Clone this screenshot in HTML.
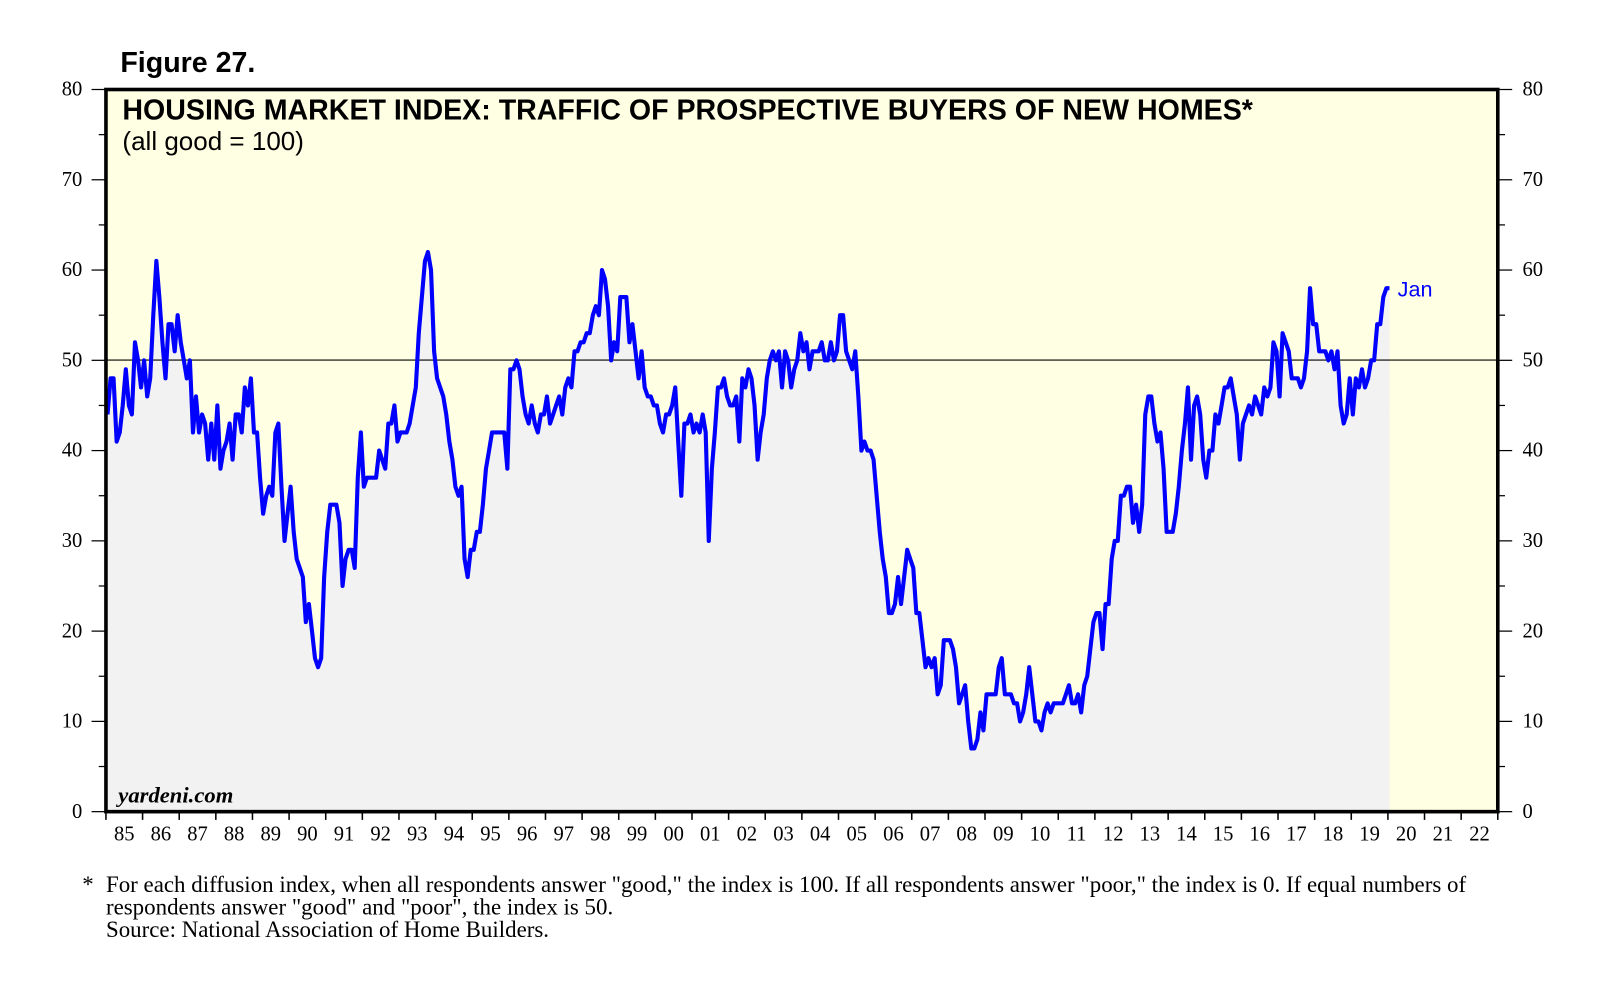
<!DOCTYPE html>
<html><head><meta charset="utf-8">
<style>
body{margin:0;background:#fff;}
svg{display:block;}
</style></head>
<body>
<svg id="chart" width="1613" height="985" viewBox="0 0 1568 957.5" xmlns="http://www.w3.org/2000/svg">
<text x="117" y="70" font-family="Liberation Sans, sans-serif" font-weight="bold" font-size="27.8">Figure 27.</text>
<rect x="103" y="87" width="1353" height="702" fill="#ffffe3"/>
<g id="fillg"></g>
<line x1="103" x2="1456" y1="350" y2="350" stroke="#000" stroke-width="1.2"/>
<g id="lineg"></g>
<rect x="103" y="87" width="1353" height="702" fill="none" stroke="#000" stroke-width="3.5"/>
<text x="119" y="116" font-family="Liberation Sans, sans-serif" font-weight="bold" font-size="27.8">HOUSING MARKET INDEX: TRAFFIC OF PROSPECTIVE BUYERS OF NEW HOMES*</text>
<text x="119" y="146" font-family="Liberation Sans, sans-serif" font-size="25.3">(all good = 100)</text>
<text x="115" y="780" font-family="Liberation Serif, serif" font-weight="bold" font-style="italic" font-size="22">yardeni.com</text>
<g id="axes"></g>
<text font-family="Liberation Serif, serif" font-size="22.3">
<tspan x="80" y="867">*</tspan><tspan x="103" y="867">For each diffusion index, when all respondents answer "good," the index is 100. If all respondents answer "poor," the index is 0. If equal numbers of</tspan>
<tspan x="103" y="889">respondents answer "good" and "poor", the index is 50.</tspan>
<tspan x="103" y="911">Source: National Association of Home Builders.</tspan>
</text>
</svg>
<script>
const startYear = 1985;
const yTicks = [0,10,20,30,40,50,60,70,80];
const yearLabels = ["85","86","87","88","89","90","91","92","93","94","95","96","97","98","99","00","01","02","03","04","05","06","07","08","09","10","11","12","13","14","15","16","17","18","19","20","21","22"];
const values = [
44,48,48,41,42,45,49,45,44,52,50,47,
50,46,48,55,61,57,52,48,54,54,51,55,
52,50,48,50,42,46,42,44,43,39,43,39,
45,38,40,41,43,39,44,44,42,47,45,48,
42,42,37,33,35,36,35,42,43,36,30,33,
36,31,28,27,26,21,23,20,17,16,17,26,
31,34,34,34,32,25,28,29,29,27,37,42,
36,37,37,37,37,40,39,38,43,43,45,41,
42,42,42,43,45,47,53,57,61,62,60,51,
48,47,46,44,41,39,36,35,36,28,26,29,
29,31,31,34,38,40,42,42,42,42,42,38,
49,49,50,49,46,44,43,45,43,42,44,44,
46,43,44,45,46,44,47,48,47,51,51,52,
52,53,53,55,56,55,60,59,56,50,52,51,
57,57,57,52,54,51,48,51,47,46,46,45,
45,43,42,44,44,45,47,41,35,43,43,44,
42,43,42,44,42,30,38,42,47,47,48,46,
45,45,46,41,48,47,49,48,45,39,42,44,
48,50,51,50,51,47,51,50,47,49,50,53,
51,52,49,51,51,51,52,50,50,52,50,51,
55,55,51,50,49,51,46,40,41,40,40,39,
35,31,28,26,22,22,23,26,23,26,29,28,
27,22,22,19,16,17,16,17,13,14,19,19,
19,18,16,12,13,14,10,7,7,8,11,9,
13,13,13,13,16,17,13,13,13,12,12,10,
11,13,16,13,10,10,9,11,12,11,12,12,
12,12,13,14,12,12,13,11,14,15,18,21,
22,22,18,23,23,28,30,30,35,35,36,36,
32,34,31,34,44,46,46,43,41,42,38,31,
31,31,33,36,40,43,47,39,45,46,44,39,
37,40,40,44,43,45,47,47,48,46,44,39,
43,44,45,44,46,45,44,47,46,47,52,51,
46,53,52,51,48,48,48,47,48,51,58,54,
54,51,51,51,50,51,49,51,45,43,44,48,
44,48,47,49,47,48,50,50,54,54,57,58,
58];
const lastLabel = "Jan";

const NS="http://www.w3.org/2000/svg";
const X0=103, X1=1456, Y0=789, Y1=87;
const nYears = yearLabels.length;
const xYear = t => X0 + (t)*(X1-X0)/nYears;
const xMonth = i => xYear((i+0.5)/12);
const yVal = v => Y0 - v*(Y0-Y1)/80;
function mk(tag, attrs){const e=document.createElementNS(NS,tag);for(const k in attrs)e.setAttribute(k,attrs[k]);return e;}

const pts = values.map((v,i)=>[xMonth(i),yVal(v)]);
const d = pts.map((p,i)=>(i?'L':'M')+p[0].toFixed(1)+' '+p[1].toFixed(1)).join(' ');
const fillD = 'M'+X0+' '+Y0+' L'+X0+' '+pts[0][1].toFixed(1)+' L'+d.slice(1)+' L'+pts[pts.length-1][0].toFixed(1)+' '+Y0+' Z';
const area = mk('path',{d:fillD,fill:'#f2f2f2'});


document.getElementById('fillg').appendChild(area);
const line = mk('path',{d:d,fill:'none',stroke:'#0000ff','stroke-width':4,'stroke-linejoin':'round'});


document.getElementById('lineg').appendChild(line);
const last = pts[pts.length-1];
const lab = mk('text',{x:last[0]+8,y:last[1]+8,fill:'#0000ff','font-family':'Liberation Sans, sans-serif','font-size':21});
lab.textContent = lastLabel;


document.getElementById('lineg').appendChild(lab);

const ax = document.getElementById('axes');
for(let v=0; v<=80; v+=5){
  const y=yVal(v), major = v%10===0;
  const len = major?14:7;
  const tl = mk('line',{x1:X0-len,x2:X0,y1:y,y2:y,stroke:'#000','stroke-width':1.2});
  
  
  ax.appendChild(tl);
  const tr = mk('line',{x1:X1,x2:X1+len,y1:y,y2:y,stroke:'#000','stroke-width':1.2});
  
  
  ax.appendChild(tr);
}
yTicks.forEach(v=>{
  const y=yVal(v);
  const l = mk('text',{x:80,y:y+6,'text-anchor':'end','font-family':'Liberation Serif, serif','font-size':20});
  l.textContent=v;
  
  
  ax.appendChild(l);
  const r = mk('text',{x:1480,y:y+6,'font-family':'Liberation Serif, serif','font-size':20});
  r.textContent=v;
  
  
  ax.appendChild(r);
});
for(let i=0;i<=nYears;i++){
  const x=xYear(i);
  const t = mk('line',{x1:x,x2:x,y1:Y0,y2:Y0+8,stroke:'#000','stroke-width':1.5});
  
  
  ax.appendChild(t);
}
yearLabels.forEach((s,i)=>{
  const t = mk('text',{x:xYear(i+0.5),y:817,'text-anchor':'middle','font-family':'Liberation Serif, serif','font-size':20});
  t.textContent=s;
  
  
  ax.appendChild(t);
});
</script>
</body></html>
